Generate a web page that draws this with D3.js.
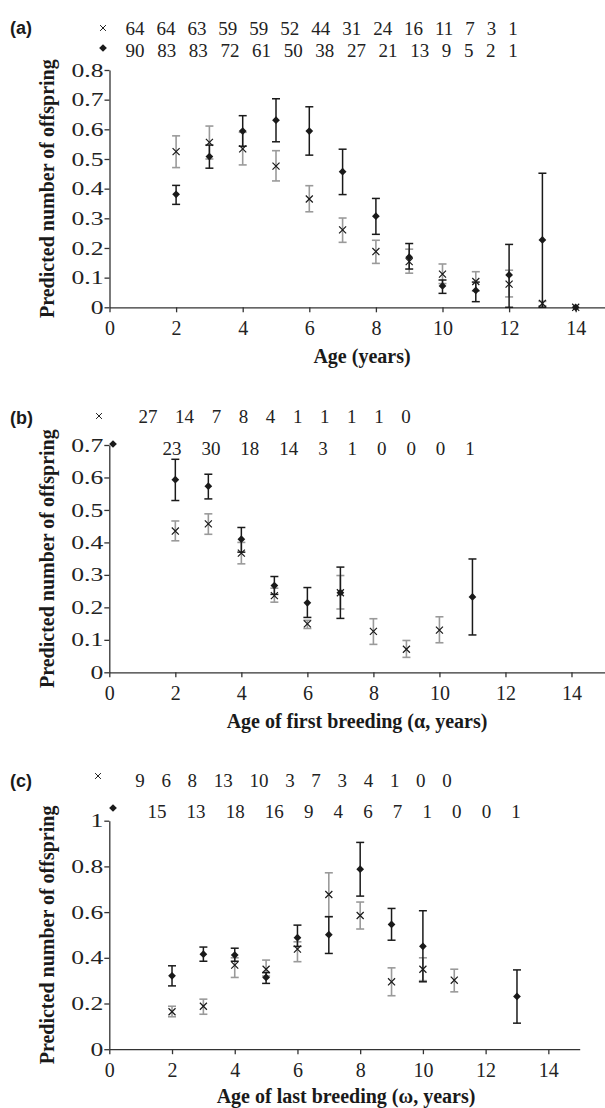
<!DOCTYPE html>
<html lang="en">
<head>
<meta charset="utf-8">
<title>Predicted number of offspring</title>
<style>
  body { margin: 0; background: #fff; }
  svg { display: block; }
  .axis path, .axis line { stroke: #333; stroke-width: 1.3; }
  .axis text { font-family: "Liberation Serif", "Times New Roman", serif; font-size: 20px; fill: #222; }
  .title { font-family: "Liberation Serif", "Times New Roman", serif; font-weight: bold; font-size: 20px; fill: #1a1a1a; }
  .panel { font-family: "Liberation Sans", Arial, sans-serif; font-weight: bold; font-size: 18px; fill: #1a1a1a; }
  .count { font-family: "Liberation Serif", "Times New Roman", serif; font-size: 19px; fill: #222; }
</style>
</head>
<body>
<svg id="chart" width="605" height="1108"></svg>
<script src="https://d3js.org/d3.v7.min.js"></script>
<script>
// ---- data ----
var xTicks = [0, 2, 4, 6, 8, 10, 12, 14];

// (a) age
var crossAgeA = [2, 3, 4, 5, 6, 7, 8, 9, 10, 11, 12, 13, 14];
var crossA    = [0.525, 0.556, 0.534, 0.476, 0.365, 0.261, 0.188, 0.154, 0.112, 0.087, 0.078, 0.013, 0];
var crossLoA  = [0.471, 0.500, 0.480, 0.426, 0.322, 0.219, 0.148, 0.115, 0.080, 0.055, 0.035, 0.005, 0];
var crossHiA  = [0.578, 0.611, 0.590, 0.528, 0.410, 0.301, 0.226, 0.196, 0.146, 0.120, 0.125, 0.020, 0];
var diamAgeA  = [2, 3, 4, 5, 6, 7, 8, 9, 10, 11, 12, 13, 14];
var diamA     = [0.381, 0.508, 0.594, 0.631, 0.594, 0.457, 0.307, 0.169, 0.072, 0.057, 0.109, 0.227, 0];
var diamLoA   = [0.347, 0.469, 0.543, 0.558, 0.513, 0.380, 0.246, 0.129, 0.047, 0.019, 0, 0, 0];
var diamHiA   = [0.411, 0.547, 0.646, 0.703, 0.676, 0.533, 0.367, 0.215, 0.092, 0.085, 0.212, 0.452, 0];
var crossNA   = [64, 64, 63, 59, 59, 52, 44, 31, 24, 16, 11, 7, 3, 1];
var diamNA    = [90, 83, 83, 72, 61, 50, 38, 27, 21, 13, 9, 5, 2, 1];

// (b) age of first breeding
var crossAgeB = [2, 3, 4, 5, 6, 7, 8, 9, 10];
var crossB    = [0.435, 0.457, 0.367, 0.236, 0.149, 0.245, 0.126, 0.071, 0.130];
var crossLoB  = [0.405, 0.425, 0.334, 0.216, 0.135, 0.195, 0.086, 0.046, 0.091];
var crossHiB  = [0.466, 0.488, 0.400, 0.259, 0.160, 0.298, 0.165, 0.098, 0.171];
var diamAgeB  = [2, 3, 4, 5, 6, 7, 11];
var diamB     = [0.593, 0.573, 0.410, 0.267, 0.214, 0.245, 0.232];
var diamLoB   = [0.529, 0.534, 0.370, 0.240, 0.169, 0.166, 0.115];
var diamHiB   = [0.656, 0.610, 0.446, 0.295, 0.261, 0.324, 0.349];
var crossNB   = [27, 14, 7, 8, 4, 1, 1, 1, 1, 0];
var diamNB    = [23, 30, 18, 14, 3, 1, 0, 0, 0, 1];

// (c) age of last breeding
var crossAgeC = [2, 3, 4, 5, 6, 7, 8, 9, 10, 11];
var crossC    = [0.164, 0.188, 0.368, 0.350, 0.438, 0.677, 0.585, 0.295, 0.350, 0.302];
var crossLoC  = [0.142, 0.153, 0.314, 0.320, 0.383, 0.580, 0.526, 0.234, 0.300, 0.251];
var crossHiC  = [0.188, 0.219, 0.400, 0.390, 0.470, 0.772, 0.644, 0.356, 0.400, 0.350];
var diamAgeC  = [2, 3, 4, 5, 6, 7, 8, 9, 10, 13];
var diamC     = [0.321, 0.416, 0.412, 0.314, 0.488, 0.501, 0.788, 0.546, 0.450, 0.231];
var diamLoC   = [0.277, 0.385, 0.385, 0.288, 0.450, 0.419, 0.670, 0.477, 0.295, 0.114];
var diamHiC   = [0.365, 0.447, 0.442, 0.335, 0.543, 0.580, 0.905, 0.616, 0.606, 0.347];
var crossNC   = [9, 6, 8, 13, 10, 3, 7, 3, 4, 1, 0, 0];
var diamNC    = [15, 13, 18, 16, 9, 4, 6, 7, 1, 0, 0, 1];

var yLabel = "Predicted number of offspring";

var svg = d3.select("#chart");
var fmt = d3.format(".2~g");

function zip(ages, v, lo, hi) {
  return ages.map(function (a, i) { return { age: a, v: v[i], lo: lo[i], hi: hi[i] }; });
}

// lay numbers out left to right with an even gap between them
function countRow(values, cx0, cx1, y) {
  var t = svg.append("g").selectAll("text")
    .data(values).enter().append("text")
    .attr("class", "count")
    .attr("y", y)
    .text(function (d) { return d; });
  var w = t.nodes().map(function (n) { return n.getComputedTextLength(); });
  var total = d3.sum(w);
  var left = cx0 - w[0] / 2, right = cx1 + w[w.length - 1] / 2;
  var gap = (right - left - total) / (w.length - 1);
  var pos = [], cur = left;
  w.forEach(function (wi) { pos.push(cur); cur += wi + gap; });
  t.attr("x", function (d, i) { return pos[i]; });
}

var crossSym = d3.symbol().type(d3.symbolTimes).size(34);
var smallCross = d3.symbol().type(d3.symbolTimes).size(24);
var diamSym = d3.symbol().type(d3.symbolSquare).size(30);

function errorBars(g, data, x, y, color, width) {
  var bars = g.selectAll(null).data(data.filter(function (d) { return d.hi > d.lo; }))
    .enter().append("g")
    .attr("stroke", color).attr("stroke-width", width).attr("fill", "none");
  bars.append("line")
    .attr("x1", function (d) { return x(d.age); }).attr("x2", function (d) { return x(d.age); })
    .attr("y1", function (d) { return y(d.lo); }).attr("y2", function (d) { return y(d.hi); });
  ["lo", "hi"].forEach(function (k) {
    bars.append("line")
      .attr("x1", function (d) { return x(d.age) - 4; }).attr("x2", function (d) { return x(d.age) + 4; })
      .attr("y1", function (d) { return y(d[k]); }).attr("y2", function (d) { return y(d[k]); });
  });
}

function drawPanel(p) {
  var x = d3.scaleLinear().domain([0, 15]).range([p.left, p.right]);
  var y = d3.scaleLinear().domain([0, p.yMax]).range([p.bottom, p.top]);

  svg.append("g").attr("class", "axis")
    .attr("transform", "translate(0," + p.bottom + ")")
    .call(d3.axisBottom(x).tickValues(xTicks).tickSize(5).tickPadding(9).tickSizeOuter(0));

  var yAxis = svg.append("g").attr("class", "axis")
    .attr("transform", "translate(" + p.left + ",0)")
    .call(d3.axisLeft(y).tickValues(p.yTicks).tickFormat(fmt).tickSize(5).tickPadding(3).tickSizeOuter(0));
  // the y tick numbers are set wider in the original
  yAxis.selectAll(".tick text")
    .style("font-size", "19px")
    .attr("x", null)
    .attr("transform", "translate(-6,0) scale(1.35,1)");

  var g = svg.append("g");
  var cross = zip(p.crossAge, p.cross, p.crossLo, p.crossHi);
  var diam = zip(p.diamAge, p.diam, p.diamLo, p.diamHi);
  errorBars(g, cross, x, y, "#9a9a9a", 1.6);
  errorBars(g, diam, x, y, "#1a1a1a", 1.5);

  g.selectAll(".cross").data(cross).enter().append("path")
    .attr("class", "cross")
    .attr("d", crossSym)
    .attr("stroke", "#1a1a1a").attr("stroke-width", 1.2).attr("fill", "none")
    .attr("transform", function (d) { return "translate(" + x(d.age) + "," + y(d.v) + ")"; });

  g.selectAll(".diam").data(diam).enter().append("path")
    .attr("class", "diam")
    .attr("d", diamSym)
    .attr("fill", "#1a1a1a")
    .attr("transform", function (d) { return "translate(" + x(d.age) + "," + y(d.v) + ") rotate(45)"; });

  // y title
  svg.append("text").attr("class", "title")
    .attr("text-anchor", "middle")
    .attr("transform", "translate(54," + (p.top + p.bottom) / 2 + ") rotate(-90)")
    .text(yLabel);

  // x title
  svg.append("text").attr("class", "title")
    .attr("text-anchor", "middle")
    .attr("x", p.xTitleX).attr("y", p.xTitleY)
    .text(p.xTitle);

  // panel letter
  svg.append("text").attr("class", "panel")
    .attr("x", 10).attr("y", p.letterY)
    .text(p.letter);

  // sample sizes
  svg.append("path").attr("d", smallCross)
    .attr("stroke", "#222").attr("stroke-width", 1).attr("fill", "none")
    .attr("transform", "translate(" + p.sym1[0] + "," + p.sym1[1] + ")");
  svg.append("path").attr("d", diamSym)
    .attr("fill", "#1a1a1a")
    .attr("transform", "translate(" + p.sym2[0] + "," + p.sym2[1] + ") rotate(45)");
  countRow(p.crossN, p.row1[0], p.row1[1], p.row1[2]);
  countRow(p.diamN, p.row2[0], p.row2[1], p.row2[2]);
}

drawPanel({
  letter: "(a)", letterY: 34,
  left: 109.5, right: 609, top: 70, bottom: 307.3, yMax: 0.8,
  yTicks: d3.range(0, 0.85, 0.1),
  crossAge: crossAgeA, cross: crossA, crossLo: crossLoA, crossHi: crossHiA,
  diamAge: diamAgeA, diam: diamA, diamLo: diamLoA, diamHi: diamHiA,
  crossN: crossNA, diamN: diamNA,
  sym1: [103, 28], sym2: [103, 48],
  row1: [135, 513, 35], row2: [135, 513, 57],
  xTitle: "Age (years)", xTitleX: 362, xTitleY: 363
});

drawPanel({
  letter: "(b)", letterY: 424,
  left: 109.3, right: 604.5, top: 445, bottom: 672.3, yMax: 0.7,
  yTicks: d3.range(0, 0.75, 0.1),
  crossAge: crossAgeB, cross: crossB, crossLo: crossLoB, crossHi: crossHiB,
  diamAge: diamAgeB, diam: diamB, diamLo: diamLoB, diamHi: diamHiB,
  crossN: crossNB, diamN: diamNB,
  sym1: [99, 416], sym2: [113, 444],
  row1: [148, 406, 423], row2: [172, 470, 455],
  xTitle: "Age of first breeding (\u03b1, years)", xTitleX: 357, xTitleY: 728
});

drawPanel({
  letter: "(c)", letterY: 787,
  left: 109.3, right: 579.7, top: 820.7, bottom: 1049.2, yMax: 1,
  yTicks: d3.range(0, 1.05, 0.2),
  crossAge: crossAgeC, cross: crossC, crossLo: crossLoC, crossHi: crossHiC,
  diamAge: diamAgeC, diam: diamC, diamLo: diamLoC, diamHi: diamHiC,
  crossN: crossNC, diamN: diamNC,
  sym1: [98, 776], sym2: [113, 808],
  row1: [140, 447, 787], row2: [157, 516, 818],
  xTitle: "Age of last breeding (\u03c9, years)", xTitleX: 346, xTitleY: 1103
});
</script>
</body>
</html>
